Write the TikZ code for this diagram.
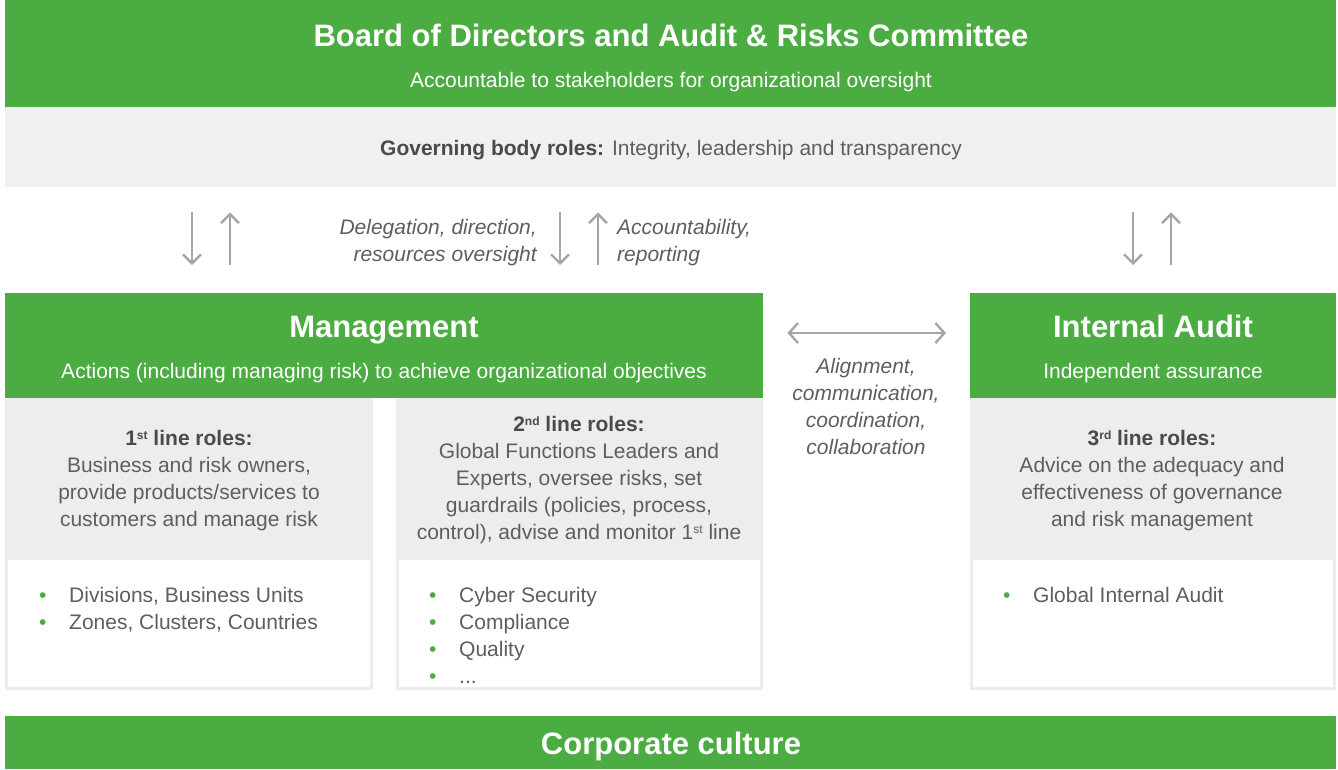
\documentclass[tikz,border=0pt]{standalone}
\usepackage{fontspec}
\setmainfont{Liberation Sans}
\usetikzlibrary{arrows.meta}

\definecolor{boardgreen}{HTML}{4BAC41}
\definecolor{govgrey}{HTML}{EFF0EF}
\definecolor{rolegrey}{HTML}{EDEDED}
\definecolor{textgrey}{HTML}{5E5E5E}
\definecolor{titlegrey}{HTML}{4A4A4A}
\definecolor{arrowgrey}{HTML}{A3A7AB}

\newcommand{\headfont}{\fontsize{31}{37}\selectfont\bfseries}
\newcommand{\bodyfont}{\fontsize{21}{27}\selectfont}
\newcommand{\bul}{\makebox[30pt][l]{\textcolor{boardgreen}{\textbullet}}}
\newcommand{\ord}[1]{\raisebox{6pt}{\fontsize{12}{12}\selectfont #1}}

\tikzset{
  band/.style={fill=boardgreen, inner sep=0, anchor=north west},
  panel/.style={fill=rolegrey, inner sep=0, anchor=north west},
  listbox/.style={fill=white, inner sep=0, anchor=north west},
  headtext/.style={anchor=base, text=white, font=\headfont, inner sep=0},
  subtext/.style={anchor=base, text=white, font=\bodyfont, inner sep=0},
  roletext/.style={anchor=base, align=center, text=textgrey, font=\bodyfont, inner sep=0},
  listtext/.style={anchor=base west, align=left, text=textgrey, font=\bodyfont, inner sep=0},
  note/.style={text=textgrey, font=\bodyfont\itshape, inner sep=0},
  flow/.style={draw=arrowgrey, line width=2.4pt, arrows={-Straight Barb[length=9pt,width=18pt]}},
}

\begin{document}
\begin{tikzpicture}[x=1pt,y=-1pt]
  \useasboundingbox (0,0) rectangle (1338,769);

  % governing body
  \node[band, minimum width=1331, minimum height=107] (board) at (5,0) {};
  \node[headtext] (boardtitle) at (671,46) {Board of Directors and Audit \& Risks Committee};
  \node[subtext] (boardsub) at (671,87) {Accountable to stakeholders for organizational oversight};
  \node[fill=govgrey, inner sep=0, anchor=north west, minimum width=1331, minimum height=80] (gov) at (5,107) {};
  \node[roletext] (govtext) at (671,155) {\textcolor{titlegrey}{\textbf{Governing body roles:}} Integrity, leadership and transparency};

  % management and internal audit
  \node[band, minimum width=758, minimum height=105] (mgmt) at (5,293) {};
  \node[headtext] (mgmttitle) at (384,337) {Management};
  \node[subtext] (mgmtsub) at (384,378) {Actions (including managing risk) to achieve organizational objectives};
  \node[band, minimum width=366, minimum height=105] (audit) at (970,293) {};
  \node[headtext] (audittitle) at (1153,337) {Internal Audit};
  \node[subtext] (auditsub) at (1153,378) {Independent assurance};

  % role panels
  \node[panel, minimum width=368, minimum height=292] (role1) at (5,398) {};
  \node[listbox, minimum width=362, minimum height=127] (list1) at (8,560) {};
  \node[panel, minimum width=367, minimum height=292] (role2) at (396,398) {};
  \node[listbox, minimum width=361, minimum height=127] (list2) at (399,560) {};
  \node[panel, minimum width=366, minimum height=292] (role3) at (970,398) {};
  \node[listbox, minimum width=360, minimum height=127] (list3) at (973,560) {};

  % (base = last line)
  \node[roletext] (role1text) at (189,526) {\textcolor{titlegrey}{\textbf{1\ord{st} line roles:}}\\Business and risk owners,\\provide products/services to\\customers and manage risk};
  \node[roletext] (role2text) at (579,539) {\textcolor{titlegrey}{\textbf{2\ord{nd} line roles:}}\\Global Functions Leaders and\\Experts, oversee risks, set\\guardrails (policies, process,\\control), advise and monitor 1\ord{st} line};
  \node[roletext] (role3text) at (1152,526) {\textcolor{titlegrey}{\textbf{3\ord{rd} line roles:}}\\Advice on the adequacy and\\effectiveness of governance\\and risk management};

  \node[listtext] (items1) at (39,629) {\bul Divisions, Business Units\\\bul Zones, Clusters, Countries};
  \node[listtext] (items2) at (429,683) {\bul Cyber Security\\\bul Compliance\\\bul Quality\\\bul ...};
  \node[listtext] (items3) at (1003,602) {\bul Global Internal Audit};

  % corporate culture
  \node[band, minimum width=1331, minimum height=53] (culture) at (5,716) {};
  \node[headtext] (culturetitle) at (671,754) {Corporate culture};

  % reporting lines
  \foreach \xa/\xb in {192/230, 560/598} {
    \draw[flow] ([yshift=-25pt]gov.south -| \xa,0) -- ([yshift=28pt]mgmt.north -| \xa,0);
    \draw[flow] ([yshift=28pt]mgmt.north -| \xb,0) -- ([yshift=-25pt]gov.south -| \xb,0);
  }
  \draw[flow] ([yshift=-25pt]gov.south -| 1133,0) -- ([yshift=28pt]audit.north -| 1133,0);
  \draw[flow] ([yshift=28pt]audit.north -| 1171,0) -- ([yshift=-25pt]gov.south -| 1171,0);
  \node[note, anchor=base east, align=right] (deleg) at (537,261) {Delegation, direction,\\resources oversight};
  \node[note, anchor=base west, align=left] (acct) at (617,261) {Accountability,\\reporting};

  \draw[flow, arrows={Straight Barb[length=9pt,width=20pt]-Straight Barb[length=9pt,width=20pt]}]
    ([xshift=24pt,yshift=-40pt]mgmt.north east) -- ([xshift=-24pt,yshift=-40pt]audit.north west);
  \node[note, anchor=base, align=center] (collab) at (866,454) {Alignment,\\communication,\\coordination,\\collaboration};
\end{tikzpicture}
\end{document}
